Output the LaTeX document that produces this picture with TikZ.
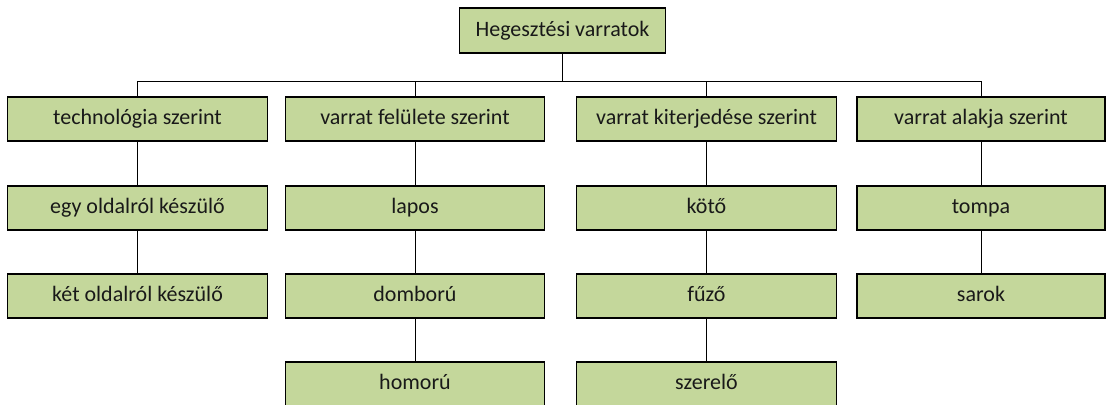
\documentclass[tikz,border=0pt]{standalone}
\usepackage{fontspec}
\setmainfont{Carlito}
\definecolor{boxgreen}{HTML}{C4D79B}
\begin{document}
\begin{tikzpicture}[x=0.75pt,y=-0.75pt,
  box/.style={draw=black,fill=boxgreen,line width=0.9pt,inner sep=0pt,
    minimum height=33pt,font=\fontsize{16.5pt}{19pt}\selectfont,text=black!90,
    text height=12pt,text depth=3.5pt},
  wbox/.style={box,minimum width=194.5pt},
  nbox/.style={box,minimum width=186pt},
  tbox/.style={box,minimum width=155pt,minimum height=33.75pt},
  link/.style={line width=0.75pt,draw=black}]
\useasboundingbox (0,0) rectangle (1107,404);
\node[tbox] (top) at (562.5,30.5) {Hegesztési varratok};
\node[wbox] (a1) at (137.5,119) {technológia szerint};
\node[wbox] (a2) at (137.5,208) {egy oldalról készülő};
\node[wbox] (a3) at (137.5,296) {két oldalról készülő};
\node[wbox] (b1) at (415,119) {varrat felülete szerint};
\node[wbox] (b2) at (415,208) {lapos};
\node[wbox] (b3) at (415,296) {domború};
\node[wbox] (b4) at (415,384) {homorú};
\node[wbox] (c1) at (706.5,119) {varrat kiterjedése szerint};
\node[wbox] (c2) at (706.5,208) {kötő};
\node[wbox] (c3) at (706.5,296) {fűző};
\node[wbox] (c4) at (706.5,384) {szerelő};
\node[nbox] (d1) at (981,119) {varrat alakja szerint};
\node[nbox] (d2) at (981,208) {tompa};
\node[nbox] (d3) at (981,296) {sarok};
\coordinate (bus) at (562.5,81.5);
\draw[link] (top.south) -- (bus);
\draw[link] (a1.north) |- (bus) -| (d1.north);
\draw[link] (b1.north) -- (b1.north |- bus);
\draw[link] (c1.north) -- (c1.north |- bus);
\draw[link] (a1) -- (a2);
\draw[link] (a2) -- (a3);
\draw[link] (b1) -- (b2);
\draw[link] (b2) -- (b3);
\draw[link] (b3) -- (b4);
\draw[link] (c1) -- (c2);
\draw[link] (c2) -- (c3);
\draw[link] (c3) -- (c4);
\draw[link] (d1) -- (d2);
\draw[link] (d2) -- (d3);
\end{tikzpicture}
\end{document}
